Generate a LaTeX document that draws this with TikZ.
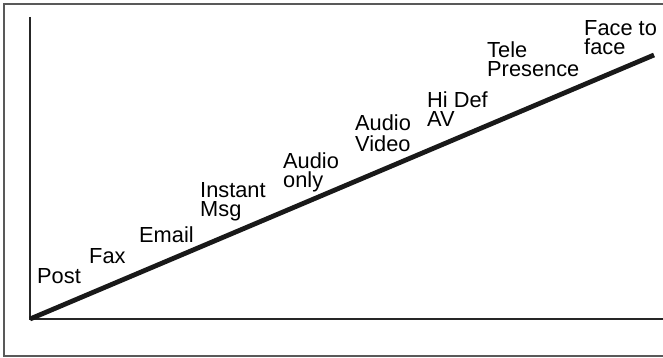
\documentclass[tikz,border=0pt]{standalone}
\usepackage{fontspec}
\setmainfont{Liberation Sans}
\usepackage{tikz}
\usetikzlibrary{positioning}

\begin{document}
\begin{tikzpicture}[x=1pt, y=-1pt,
    lbl/.style={anchor=south west, inner sep=0pt, text depth=0pt, align=left,
      font=\fontsize{21.8}{19}\selectfont},
    axis/.style={line width=1.8pt, black!85},
    trend/.style={line width=4.8pt, black!90}]
    \useasboundingbox (0,0) rectangle (663,358);

    % frame, open on the right
    \draw[line width=1.3pt, black!65] (663,4) -- (4,4) -- (4,356) -- (663,356);

    \coordinate (orig) at (30,319);
    \coordinate (ytop) at (30,17);
    \coordinate (xend) at (663,319);
    \coordinate (peak) at (654,55);

    \draw[axis] (ytop) -- (orig) -- (xend);
    \draw[trend] (orig) -- (peak);

    \node[lbl] (post) at (37,284) {Post};
    \node[lbl] (fax) at (89,264) {Fax};
    \node[lbl] (email) at (139,243) {Email};
    \node[lbl] (im) at (200,217) {Instant\\Msg};
    \node[lbl] (aonly) at (283,188) {Audio\\only};
    \node[lbl, font=\fontsize{21.8}{21}\selectfont] (av) at (355,152) {Audio\\Video};
    \node[lbl] (hdav) at (427,127) {Hi Def\\AV};
    \node[lbl] (tele) at (487,77) {Tele\\Presence};
    \node[lbl] (f2f) at (584,55) {Face to\\face};
\end{tikzpicture}
\end{document}
